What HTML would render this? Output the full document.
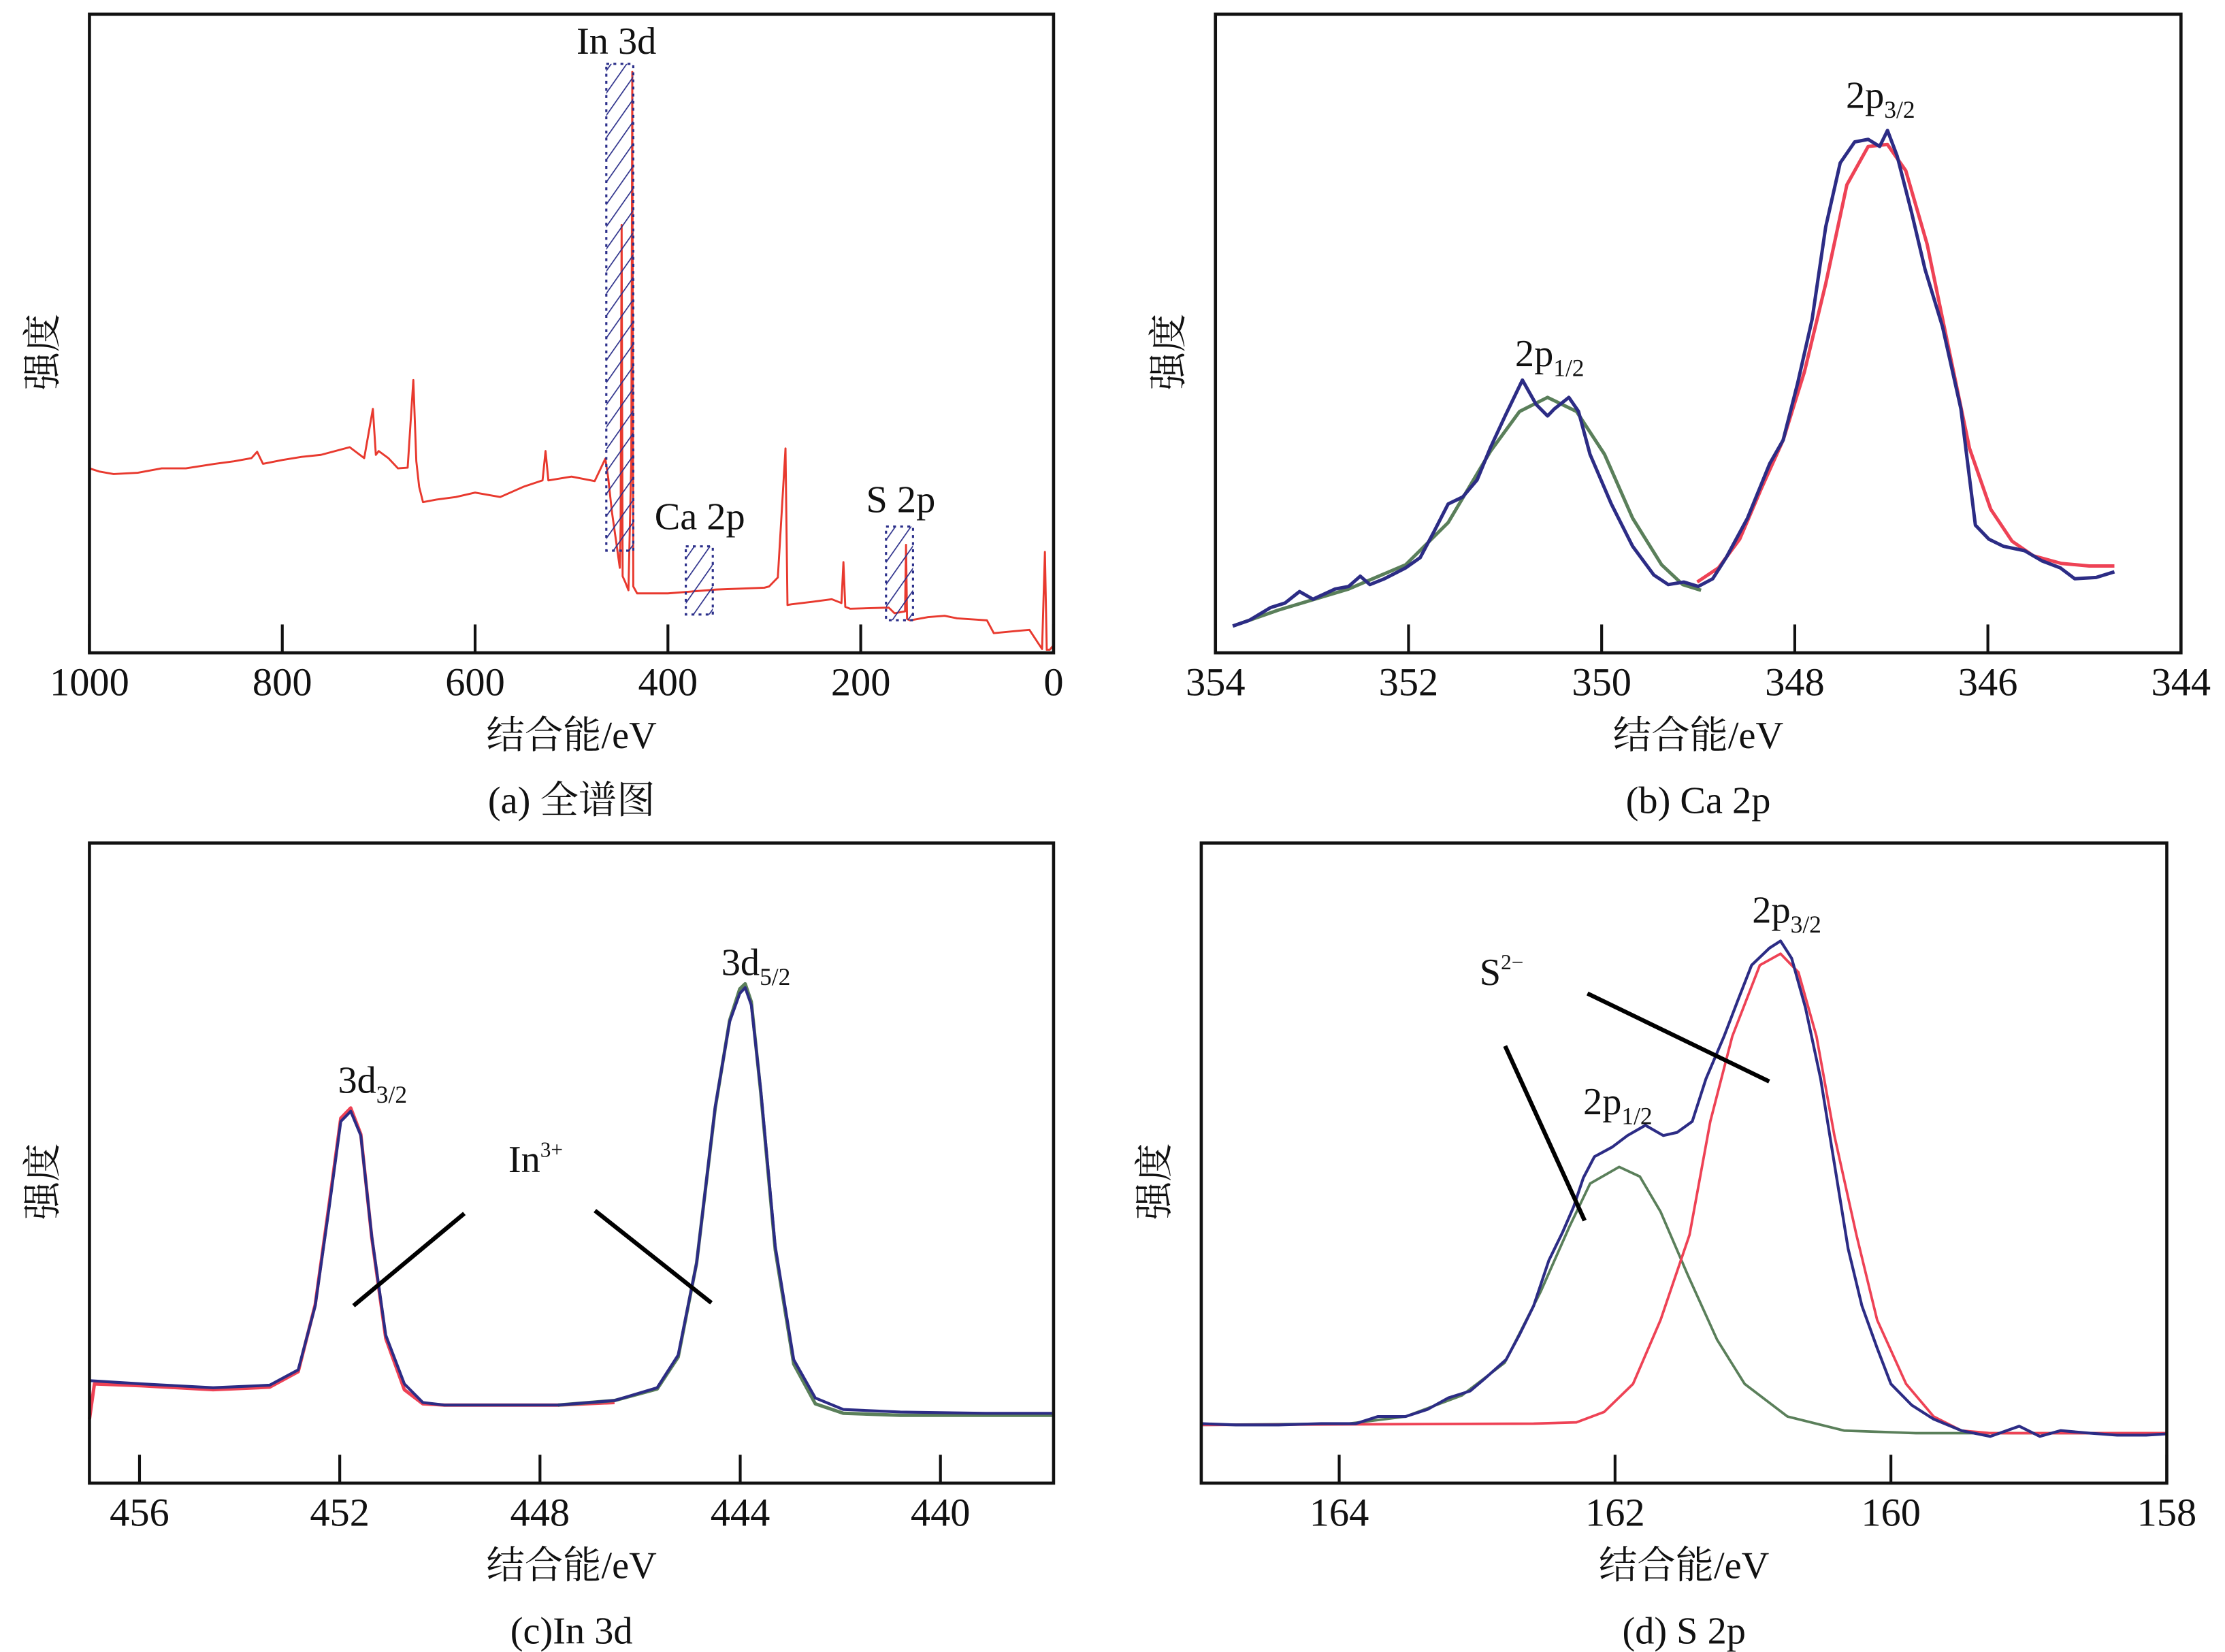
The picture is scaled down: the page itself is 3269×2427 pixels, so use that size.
<!DOCTYPE html>
<html><head><meta charset="utf-8">
<style>
html,body{margin:0;padding:0;background:#fff;}
svg{display:block;}
text{font-family:"Liberation Serif","Noto Serif CJK SC","Noto Sans CJK SC",serif;fill:#111;}
</style></head>
<body>
<svg id="fig" width="3269" height="2427" viewBox="0 0 1567 1164" preserveAspectRatio="none" xmlns="http://www.w3.org/2000/svg">
<defs>
<pattern id="hatch" width="9" height="9" patternUnits="userSpaceOnUse" patternTransform="rotate(35)">
<line x1="0" y1="0" x2="0" y2="9" stroke="#2b2f8a" stroke-width="1.6"/>
</pattern>
</defs>
<rect width="1567" height="1164" fill="#fff"/>
<g id="layer"></g>
</svg>
<script>
// ---------- DATA ----------
const surveyEV  = [1000,990,975,950,925,900,870,850,832,826,820,800,780,760,730,715,706,703,700,690,680,670,664,661,658,654,640,620,600,574,550,530,527,524,500,476,465,462,458,454,450,449,448,447,444,441,438,437,436,432,400,350,300,295,286,278,276,272,250,230,220,218,216,211,190,171,165,154,153,152,149,130,113,100,80,69,62,40,25,12,9,7,4,0];
const surveyVal = [28.9,28.4,28.0,28.2,28.9,28.9,29.6,30.0,30.5,31.5,29.6,30.2,30.7,31.0,32.2,30.5,38.2,31.0,31.6,30.5,28.9,29.0,42.7,30.0,26.0,23.6,24.0,24.4,25.1,24.4,26.0,27.0,31.6,27.0,27.6,26.9,30.4,27.5,22.0,17.8,13.3,20.0,67.0,12.0,11.0,9.8,30.0,91.0,10.4,9.3,9.3,9.9,10.2,10.4,11.8,32.0,7.5,7.6,8.0,8.4,7.8,14.2,7.2,6.9,7.0,7.1,6.2,6.5,16.9,5.3,5.1,5.6,5.8,5.4,5.2,5.1,3.1,3.4,3.6,0.6,15.8,0.5,0.5,1.2];
const surveyTicks = [1000,800,600,400,200,0];

const caEV   = [353.82,353.65,353.43,353.28,353.13,352.99,352.76,352.62,352.5,352.4,352.25,352.03,351.88,351.74,351.59,351.44,351.29,351.15,351,350.82,350.68,350.56,350.49,350.34,350.24,350.12,349.9,349.68,349.46,349.31,349.15,349,348.85,348.71,348.49,348.26,348.12,347.97,347.82,347.68,347.53,347.38,347.24,347.12,347.04,346.94,346.79,346.65,346.47,346.28,346.13,345.99,345.84,345.62,345.44,345.25,345.1,344.88,344.69];
const caData = [4.2,5.1,7.1,7.8,9.6,8.4,10,10.4,12,10.7,11.6,13.3,14.9,18.9,23.3,24.4,27.1,32.2,37.1,42.7,38.9,37.1,38.2,40,37.8,31.1,23.3,16.7,12.2,10.7,11.1,10.4,11.6,14.9,21.1,29.6,33.3,42.2,52.2,66.7,76.7,80,80.4,79.3,81.8,77.8,68.9,60,51.1,38.2,20,17.8,16.7,16,14.4,13.3,11.6,11.8,12.7];
const caFit12EV  = [353.82,353.35,352.62,352.03,351.59,351.15,350.85,350.56,350.26,349.97,349.68,349.38,349.16,348.97];
const caFit12Val = [4.2,6.7,10,13.8,20.4,31.6,37.8,40,37.8,31.1,21.1,13.8,10.7,9.8];
const caFit32EV  = [349.01,348.79,348.57,348.35,348.12,347.9,347.68,347.46,347.24,347.04,346.85,346.63,346.41,346.19,345.97,345.75,345.53,345.24,344.95,344.69];
const caFit32Val = [11.1,13.3,17.8,25.6,33.3,44,57.8,73.3,79.3,79.6,75.5,64,48,32,22.5,17.5,15.2,14.0,13.6,13.6];
const caTicks = [354,352,350,348,346,344];

const inEV   = [457,455.95,454.53,453.4,452.83,452.49,452.21,451.98,451.78,451.58,451.36,451.08,450.71,450.34,449.91,449.06,447.64,446.51,445.66,445.24,444.87,444.5,444.21,444.01,443.9,443.78,443.59,443.3,442.93,442.5,441.94,440.8,439.1,437.77];
const inData = [16,15.5,14.9,15.3,17.7,27.7,43.2,56.5,58.1,54.3,38.6,23.1,15.5,12.6,12.2,12.2,12.2,12.9,14.9,20,34.4,58.8,72.1,76.5,77.4,74.7,61.4,37,19.3,13.3,11.5,11.1,10.9,10.9];
const inFit52EV  = [447.64,446.51,445.66,445.24,444.87,444.5,444.21,444.01,443.9,443.78,443.59,443.3,442.93,442.5,441.94,440.8,439.1,437.77];
const inFit52Val = [12.2,12.9,14.7,19.7,34.4,58.6,72.3,77.2,78,75.2,61,36.4,18.6,12.4,10.9,10.6,10.6,10.6];
const inFit32EV  = [457,456.9,455.95,454.53,453.4,452.83,452.49,452.21,451.98,451.78,451.58,451.36,451.08,450.71,450.34,449.91,449.06,447.64,446.51];
const inFit32Val = [10,15.5,15.2,14.6,15,17.4,27.9,43.7,57,58.6,54.5,38.4,22.6,14.6,12.4,12.2,12.2,12.2,12.6];
const inTicks = [456,452,448,444,440];

const sEV   = [165,164.75,164.44,164.13,163.88,163.72,163.52,163.36,163.21,163.05,162.95,162.79,162.69,162.59,162.48,162.38,162.3,162.23,162.15,162.02,161.91,161.78,161.65,161.55,161.44,161.34,161.21,161.11,161.01,160.88,160.8,160.72,160.62,160.51,160.41,160.31,160.21,160.1,160,159.85,159.69,159.49,159.28,159.07,158.92,158.77,158.56,158.36,158.15,158];
const sData = [9.3,9.1,9.1,9.3,9.3,10.4,10.4,11.5,13.3,14.4,16.2,19.3,23.3,27.7,34.8,39.2,43.2,47.7,51,52.5,54.3,55.9,54.3,54.8,56.5,63.2,69.8,75.4,80.9,83.6,84.7,82,74.3,63.2,49.9,36.6,27.7,21.1,15.5,12.2,10,8.2,7.3,8.9,7.3,8.2,7.8,7.5,7.5,7.7];
const sFit12EV  = [165,163.93,163.52,163.11,162.8,162.54,162.33,162.18,161.97,161.82,161.67,161.47,161.26,161.06,160.75,160.34,159.82,158];
const sFit12Val = [9.1,9.3,10.4,13.7,18.8,29.9,40.1,46.8,49.4,47.9,42.4,32.4,22.4,15.5,10.4,8.2,7.8,7.8];
const sFit32EV  = [165,162.59,162.28,162.08,161.87,161.67,161.46,161.31,161.15,160.95,160.8,160.67,160.54,160.41,160.25,160.1,159.89,159.69,159.49,159.28,158];
const sFit32Val = [9.1,9.3,9.5,11.1,15.5,25.5,38.8,56.5,69.8,80.9,82.7,79.8,69.8,54.3,38.8,25.5,15.5,10.4,8.2,7.8,7.8];
const sTicks = [164,162,160,158];

// ---------- DRAWING ----------
const NS = "http://www.w3.org/2000/svg";
const layer = document.getElementById('layer');
function mk(tag, attrs, parent){
  const e = document.createElementNS(NS, tag);
  for (const k in attrs) e.setAttribute(k, attrs[k]);
  (parent||layer).appendChild(e);
  return e;
}
function panel(p){
  const g = mk('g', {});
  
  
  const xs = v => p.x0 + (p.e0 - v) / (p.e0 - p.e1) * (p.x1 - p.x0);
  const ys = v => p.y1 - v / 100 * (p.y1 - p.y0);
  p.series.forEach(s => {
    let d = '';
    for (let i = 0; i < s.ev.length; i++) d += (i ? 'L' : 'M') + xs(s.ev[i]).toFixed(1) + ',' + ys(s.val[i]).toFixed(1);
    const path = mk('path', {d: d, fill: 'none', stroke: s.color, 'stroke-width': s.w, 'stroke-linejoin': 'round'}, g);
    
    
  });
  const fr = mk('rect', {x: p.x0, y: p.y0, width: p.x1 - p.x0, height: p.y1 - p.y0, fill: 'none', stroke: '#111', 'stroke-width': 2.2}, g);
  
  
  p.ticks.forEach(t => {
    const x = xs(t);
    const tl = mk('line', {x1: x, x2: x, y1: p.y1, y2: p.y1 - 20, stroke: '#111', 'stroke-width': 2}, g);
    
    
    const tx = mk('text', {x: x, y: p.y1 + 30, 'font-size': 28, 'text-anchor': 'middle'}, g);
    tx.textContent = String(t);
    
    
  });
  const xt = mk('text', {x: (p.x0 + p.x1) / 2, y: p.y1 + 67, 'font-size': 27, 'text-anchor': 'middle'}, g);
  xt.textContent = '结合能/eV';
  
  
  const yt = mk('text', {x: 0, y: 0, 'font-size': 27, 'text-anchor': 'middle', transform: 'translate(' + (p.x0 - 24) + ',' + ((p.y0 + p.y1) / 2 + 13) + ') rotate(-90)'}, g);
  yt.textContent = '强度';
  
  
  const cp = mk('text', {x: (p.x0 + p.x1) / 2, y: p.y1 + 113, 'font-size': 27, 'text-anchor': 'middle'}, g);
  cp.textContent = p.caption;
  
  
  return g;
}
function label(g, x, y, main, sub, sup, name){
  const t = mk('text', {x: x, y: y, 'font-size': 27}, g);
  
  
  const a = document.createElementNS(NS, 'tspan'); a.textContent = main; t.appendChild(a);
  if (sub){ const b = document.createElementNS(NS, 'tspan'); b.setAttribute('font-size', 17); b.setAttribute('dy', 7); b.textContent = sub; t.appendChild(b); }
  if (sup){ const c = document.createElementNS(NS, 'tspan'); c.setAttribute('font-size', 15); c.setAttribute('dy', -11); c.textContent = sup; t.appendChild(c); }
}
function line(g, x1, y1, x2, y2, name){
  const l = mk('line', {x1: x1, y1: y1, x2: x2, y2: y2, stroke: '#000', 'stroke-width': 3}, g);
  
  
}
const BLUE = '#2c2c85', RED = '#ee4255', GREEN = '#5a7f5a';

const pa = {name: 'panel-a-survey', x0: 63, x1: 742, y0: 10, y1: 460, e0: 1000, e1: 0, ticks: surveyTicks, caption: '(a) 全谱图',
  series: [{name: 'survey-spectrum', ev: surveyEV, val: surveyVal, color: '#e8392e', w: 1.4}]};
const ga = panel(pa);
[[427, 446, 45, 388, 'in3d-region-box'], [483, 502, 385, 433, 'ca2p-region-box'], [624, 643, 371, 437, 's2p-region-box']].forEach(b => {
  const r = mk('rect', {x: b[0], y: b[2], width: b[1] - b[0], height: b[3] - b[2], fill: 'url(#hatch)', stroke: '#2b2f8a', 'stroke-width': 1.5, 'stroke-dasharray': '2,3'}, ga);
  
  
});
label(ga, 406, 38, 'In 3d', null, null, 'in3d-label');
label(ga, 461, 373, 'Ca 2p', null, null, 'ca2p-label');
label(ga, 610, 361, 'S 2p', null, null, 's2p-label');

const pb = {name: 'panel-b-ca2p', x0: 856, x1: 1536, y0: 10, y1: 460, e0: 354, e1: 344, ticks: caTicks, caption: '(b) Ca 2p',
  series: [
    {name: 'ca-fit-2p12', ev: caFit12EV, val: caFit12Val, color: GREEN, w: 2.4},
    {name: 'ca-fit-2p32', ev: caFit32EV, val: caFit32Val, color: RED, w: 2.4},
    {name: 'ca-measured', ev: caEV, val: caData, color: BLUE, w: 2.4}]};
const gb = panel(pb);
label(gb, 1067, 258, '2p', '1/2', null, 'ca-2p12-label');
label(gb, 1300, 76, '2p', '3/2', null, 'ca-2p32-label');

const pc = {name: 'panel-c-in3d', x0: 63, x1: 742, y0: 594, y1: 1045, e0: 457, e1: 437.74, ticks: inTicks, caption: '(c)In 3d',
  series: [
    {name: 'in-fit-3d32', ev: inFit32EV, val: inFit32Val, color: RED, w: 2.4},
    {name: 'in-fit-3d52', ev: inFit52EV, val: inFit52Val, color: GREEN, w: 2.4},
    {name: 'in-measured', ev: inEV, val: inData, color: BLUE, w: 2}]};
const gc = panel(pc);
label(gc, 238, 770, '3d', '3/2', null, 'in-3d32-label');
label(gc, 508, 687, '3d', '5/2', null, 'in-3d52-label');
label(gc, 358, 826, 'In', null, '3+', 'in3plus-label');
line(gc, 249, 920, 327, 855, 'in-pointer-left');
line(gc, 419, 853, 501, 918, 'in-pointer-right');

const pd = {name: 'panel-d-s2p', x0: 846, x1: 1526, y0: 594, y1: 1045, e0: 165, e1: 158, ticks: sTicks, caption: '(d) S 2p',
  series: [
    {name: 's-fit-2p12', ev: sFit12EV, val: sFit12Val, color: GREEN, w: 1.8},
    {name: 's-fit-2p32', ev: sFit32EV, val: sFit32Val, color: RED, w: 1.8},
    {name: 's-measured', ev: sEV, val: sData, color: BLUE, w: 2}]};
const gd = panel(pd);
label(gd, 1115, 785, '2p', '1/2', null, 's-2p12-label');
label(gd, 1234, 650, '2p', '3/2', null, 's-2p32-label');
label(gd, 1042, 694, 'S', null, '2−', 's2minus-label');
line(gd, 1060, 737, 1116, 860, 's-pointer-left');
line(gd, 1118, 700, 1246, 762, 's-pointer-right');
</script>
</body></html>
